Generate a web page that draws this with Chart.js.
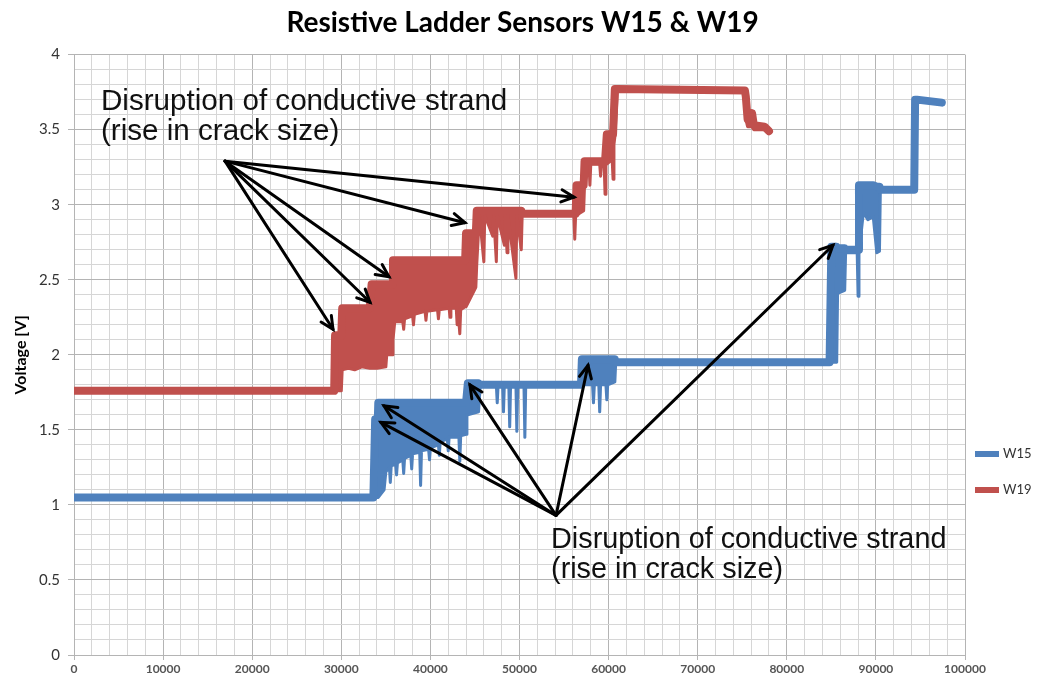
<!DOCTYPE html>
<html>
<head>
<meta charset="utf-8">
<title>Resistive Ladder Sensors W15 & W19</title>
<script src="https://cdn.jsdelivr.net/npm/chart.js@4/dist/chart.umd.min.js"></script>
<style>
  html, body { margin: 0; padding: 0; background: #fff; }
  #wrap { width: 1057px; height: 679px; }
</style>
</head>
<body>
<div id="wrap"><canvas id="sensorChart" width="1057" height="679"></canvas></div>
<script>
// W15: x (time), top of trace, bottom of noisy band
const w15X = [0, 33600, 33800, 34100, 34150, 34800, 35000, 35400, 35500, 35600, 36100, 36200, 36300, 36900, 37000, 37100, 37800, 37900, 38000, 38800, 38900, 39000, 39800, 39900, 40000, 40900, 41000, 41100, 41900, 42000, 42100, 43200, 43300, 43400, 44000, 44100, 44200, 45400, 45600, 47400, 47500, 47600, 48100, 48200, 48300, 48800, 48900, 49000, 49600, 49700, 49800, 50500, 50600, 50700, 56900, 57000, 58200, 58300, 58400, 58900, 59000, 59100, 59700, 59800, 59900, 60700, 60800, 84800, 85000, 85600, 85700, 86500, 86600, 87900, 88000, 88100, 88600, 89100, 89700, 90100, 90400, 90500, 94300, 94400, 94600, 97400];
const w15Top = [1.05, 1.05, 1.57, 1.57, 1.68, 1.68, 1.68, 1.68, 1.68, 1.68, 1.68, 1.68, 1.68, 1.68, 1.68, 1.68, 1.68, 1.68, 1.68, 1.68, 1.68, 1.68, 1.68, 1.68, 1.68, 1.68, 1.68, 1.68, 1.68, 1.68, 1.68, 1.68, 1.68, 1.68, 1.68, 1.68, 1.81, 1.81, 1.80, 1.80, 1.80, 1.80, 1.80, 1.80, 1.80, 1.80, 1.80, 1.80, 1.80, 1.80, 1.80, 1.80, 1.80, 1.80, 1.80, 1.97, 1.97, 1.97, 1.97, 1.97, 1.97, 1.97, 1.97, 1.97, 1.97, 1.97, 1.95, 1.95, 2.72, 2.72, 2.71, 2.71, 2.70, 2.70, 2.70, 3.13, 3.13, 3.13, 3.13, 3.12, 3.12, 3.10, 3.10, 3.70, 3.70, 3.68];
const w15Bot = [1.05, 1.05, 1.05, 1.05, 1.05, 1.10, 1.22, 1.25, 1.15, 1.26, 1.27, 1.20, 1.28, 1.30, 1.21, 1.31, 1.33, 1.24, 1.34, 1.35, 1.13, 1.36, 1.37, 1.30, 1.38, 1.40, 1.33, 1.42, 1.44, 1.36, 1.45, 1.45, 1.29, 1.46, 1.47, 1.60, 1.60, 1.62, 1.80, 1.80, 1.68, 1.80, 1.80, 1.62, 1.80, 1.80, 1.52, 1.80, 1.80, 1.49, 1.80, 1.80, 1.45, 1.80, 1.80, 1.80, 1.80, 1.68, 1.80, 1.80, 1.62, 1.80, 1.80, 1.70, 1.80, 1.82, 1.95, 1.95, 1.95, 1.95, 2.41, 2.43, 2.68, 2.68, 2.39, 2.68, 2.95, 2.90, 2.92, 2.68, 2.69, 3.10, 3.10, 3.10, 3.70, 3.68];

// W19
const w19X = [0, 29200, 29300, 30000, 30100, 30800, 31500, 32300, 33200, 33400, 34000, 35000, 35100, 35700, 35800, 36000, 36900, 37000, 37100, 38000, 38100, 38200, 39400, 39500, 39600, 40800, 40900, 41000, 42100, 42200, 42300, 42900, 43000, 43100, 43300, 43400, 43900, 44000, 45100, 45200, 45500, 46000, 46100, 47000, 47100, 47400, 47500, 48300, 48400, 48600, 48700, 49600, 49700, 50200, 50300, 56100, 56200, 56300, 56400, 57200, 57300, 57800, 57900, 58000, 59000, 59100, 59200, 59500, 59600, 59700, 59800, 60400, 60500, 60600, 60700, 61000, 75300, 75400, 75600, 76000, 76100, 76300, 77500, 78000];
const w19Top = [1.76, 1.76, 2.13, 2.13, 2.31, 2.31, 2.31, 2.31, 2.31, 2.47, 2.47, 2.47, 2.47, 2.47, 2.63, 2.63, 2.63, 2.63, 2.63, 2.63, 2.63, 2.63, 2.63, 2.63, 2.63, 2.63, 2.63, 2.63, 2.63, 2.63, 2.63, 2.63, 2.63, 2.63, 2.63, 2.63, 2.63, 2.81, 2.81, 2.96, 2.96, 2.96, 2.96, 2.96, 2.96, 2.96, 2.96, 2.96, 2.96, 2.96, 2.96, 2.96, 2.96, 2.96, 2.94, 2.94, 2.94, 2.94, 3.13, 3.13, 3.29, 3.29, 3.29, 3.29, 3.29, 3.29, 3.29, 3.29, 3.29, 3.29, 3.47, 3.47, 3.47, 3.47, 3.77, 3.77, 3.76, 3.72, 3.57, 3.58, 3.61, 3.53, 3.52, 3.49];
const w19Bot = [1.76, 1.76, 1.76, 1.76, 1.90, 1.91, 1.90, 1.92, 1.91, 1.91, 1.91, 1.92, 2.00, 2.00, 2.10, 2.22, 2.22, 2.17, 2.24, 2.26, 2.20, 2.27, 2.29, 2.23, 2.29, 2.30, 2.24, 2.30, 2.31, 2.25, 2.31, 2.31, 2.20, 2.30, 2.14, 2.30, 2.32, 2.32, 2.45, 2.60, 2.93, 2.62, 2.93, 2.79, 2.93, 2.62, 2.93, 2.73, 2.93, 2.68, 2.93, 2.51, 2.93, 2.70, 2.93, 2.93, 2.77, 2.93, 2.93, 2.96, 3.13, 3.27, 3.13, 3.27, 3.27, 3.19, 3.27, 3.27, 3.07, 3.27, 3.27, 3.30, 3.17, 3.40, 3.45, 3.77, 3.76, 3.57, 3.52, 3.52, 3.52, 3.50, 3.50, 3.47];

const seriesNames = ["W15", "W19"];
const seriesColors = ["#4F81BD", "#C0504D"];

const yTicksMajor = [0, 0.5, 1, 1.5, 2, 2.5, 3, 3.5, 4];
const xTicksMajor = [0, 10000, 20000, 30000, 40000, 50000, 60000, 70000, 80000, 90000, 100000];

// annotations, in data units [x, voltage]
const upperLabel = ["Disruption of conductive strand", "(rise in crack size)"];
const upperLabelAt = [3030, 3.63];
const upperOrigin = [16950, 3.29];
const upperTargets = [[29070, 2.17], [33220, 2.35], [35350, 2.52], [43880, 2.88], [56120, 3.05]];

const lowerLabel = ["Disruption of conductive strand", "(rise in crack size)"];
const lowerLabelAt = [53540, 0.71];
const lowerOrigin = [54100, 0.93];
const lowerTargets = [[34450, 1.55], [34790, 1.66], [44440, 1.80], [57690, 1.93], [85180, 2.73]];

function toPoints(xs, ys) {
  return xs.map((x, i) => ({ x: x, y: ys[i] }));
}

function isMajor(v, step) {
  const r = v / step;
  return Math.abs(r - Math.round(r)) < 1e-6;
}

function drawArrow(ctx, x0, y0, x1, y1) {
  const ang = Math.atan2(y1 - y0, x1 - x0);
  const head = 14;
  ctx.beginPath();
  ctx.moveTo(x0, y0);
  ctx.lineTo(x1, y1);
  ctx.stroke();
  ctx.beginPath();
  ctx.moveTo(x1 - head * Math.cos(ang - 0.45), y1 - head * Math.sin(ang - 0.45));
  ctx.lineTo(x1, y1);
  ctx.lineTo(x1 - head * Math.cos(ang + 0.45), y1 - head * Math.sin(ang + 0.45));
  ctx.stroke();
}

const annotationPlugin = {
  id: "crackNotes",
  afterDatasetsDraw(chart) {
    const ctx = chart.ctx;
    const xs = chart.scales.x;
    const ys = chart.scales.y;
    ctx.save();
    ctx.strokeStyle = "#000";
    ctx.lineWidth = 3;
    ctx.lineCap = "round";
    ctx.lineJoin = "miter";

    const groups = [
      { origin: upperOrigin, targets: upperTargets, label: upperLabel, at: upperLabelAt, size: 29.6 },
      { origin: lowerOrigin, targets: lowerTargets, label: lowerLabel, at: lowerLabelAt, size: 28.8 }
    ];
    groups.forEach(g => {
      const ox = xs.getPixelForValue(g.origin[0]);
      const oy = ys.getPixelForValue(g.origin[1]);
      g.targets.forEach(t => {
        drawArrow(ctx, ox, oy, xs.getPixelForValue(t[0]), ys.getPixelForValue(t[1]));
      });
      ctx.fillStyle = "#111";
      ctx.font = g.size + "px 'Liberation Sans', Arial, sans-serif";
      ctx.textAlign = "left";
      ctx.textBaseline = "alphabetic";
      const lx = xs.getPixelForValue(g.at[0]);
      const ly = ys.getPixelForValue(g.at[1]);
      g.label.forEach((line, i) => ctx.fillText(line, lx, ly + i * 30));
    });
    ctx.restore();
  }
};

const legendPlugin = {
  id: "sideLegend",
  afterDraw(chart) {
    const ctx = chart.ctx;
    ctx.save();
    ctx.font = "13px Lato, 'Open Sans', sans-serif";
    ctx.textBaseline = "middle";
    ctx.textAlign = "left";
    const items = chart.data.datasets.filter(d => d.label);
    items.forEach((d, i) => {
      const y = 454 + i * 36;
      ctx.strokeStyle = d.borderColor;
      ctx.lineWidth = 6;
      ctx.beginPath();
      ctx.moveTo(975, y);
      ctx.lineTo(999, y);
      ctx.stroke();
      ctx.fillStyle = "#333";
      ctx.fillText(d.label, 1003, y);
    });
    ctx.restore();
  }
};

function buildDatasets() {
  const tops = [w15Top, w19Top];
  const bots = [w15Bot, w19Bot];
  const xs = [w15X, w19X];
  const out = [];
  seriesNames.forEach((name, i) => {
    out.push({
      label: name,
      data: toPoints(xs[i], tops[i]),
      borderColor: seriesColors[i],
      backgroundColor: seriesColors[i],
      borderWidth: 8,
      borderJoinStyle: "round",
      borderCapStyle: "round",
      pointRadius: 0,
      tension: 0,
      fill: false
    });
    out.push({
      label: "",
      data: toPoints(xs[i], bots[i]),
      borderColor: seriesColors[i],
      backgroundColor: seriesColors[i],
      borderWidth: 3,
      borderJoinStyle: "round",
      pointRadius: 0,
      tension: 0,
      fill: "-1"
    });
  });
  return out;
}

function main() {
  const ctx = document.getElementById("sensorChart");
  new Chart(ctx, {
    type: "line",
    data: { datasets: buildDatasets() },
    options: {
      responsive: false,
      animation: false,
      layout: { padding: { left: 0, right: 12, top: 0, bottom: 0 } },
      plugins: {
        legend: { display: false },
        tooltip: { enabled: false },
        title: {
          display: true,
          text: "Resistive Ladder Sensors W15 & W19",
          color: "#000",
          font: { family: "Lato, 'Open Sans', sans-serif", size: 28, weight: "bold" },
          padding: { top: 6, bottom: 15 }
        }
      },
      scales: {
        x: {
          type: "linear",
          min: 0,
          max: 100000,
          afterFit: s => { s.height = 24; },
          ticks: {
            stepSize: 2000,
            autoSkip: false,
            maxRotation: 0,
            maxTicksLimit: 100,
            padding: 2,
            color: "#555",
            font: { family: "Lato, 'Open Sans', sans-serif", size: 12, weight: "bold" },
            callback: v => xTicksMajor.includes(v) ? String(v) : ""
          },
          grid: {
            color: c => isMajor(c.tick.value, 10000) ? "#b4b4b4" : "#d6d6d6",
            tickColor: c => isMajor(c.tick.value, 10000) ? "#b4b4b4" : "rgba(0,0,0,0)",
            tickLength: 5
          },
          border: { color: "#b4b4b4" }
        },
        y: {
          min: 0,
          max: 4,
          afterFit: s => { s.width = 74; },
          title: {
            display: true,
            text: "Voltage [V]",
            color: "#000",
            font: { family: "Lato, 'Open Sans', sans-serif", size: 16, weight: "bold" },
            padding: { top: 11, bottom: 0 }
          },
          ticks: {
            stepSize: 0.1,
            autoSkip: false,
            maxTicksLimit: 100,
            padding: 8,
            color: "#333",
            font: { family: "Lato, 'Open Sans', sans-serif", size: 15 },
            callback: v => yTicksMajor.some(m => Math.abs(m - v) < 1e-6) ? String(v) : ""
          },
          grid: {
            color: c => isMajor(c.tick.value, 0.5) ? "#b4b4b4" : "#d6d6d6",
            tickColor: c => isMajor(c.tick.value, 0.5) ? "#b4b4b4" : "rgba(0,0,0,0)",
            tickLength: 6
          },
          border: { color: "#b4b4b4" }
        },
        // empty right-hand strip that holds the legend
        side: {
          type: "linear",
          position: "right",
          display: true,
          afterFit: s => { s.width = 80; },
          grid: { display: false, drawTicks: false },
          ticks: { display: false },
          border: { display: false }
        }
      }
    },
    plugins: [annotationPlugin, legendPlugin]
  });
}

main();
</script>
</body>
</html>
